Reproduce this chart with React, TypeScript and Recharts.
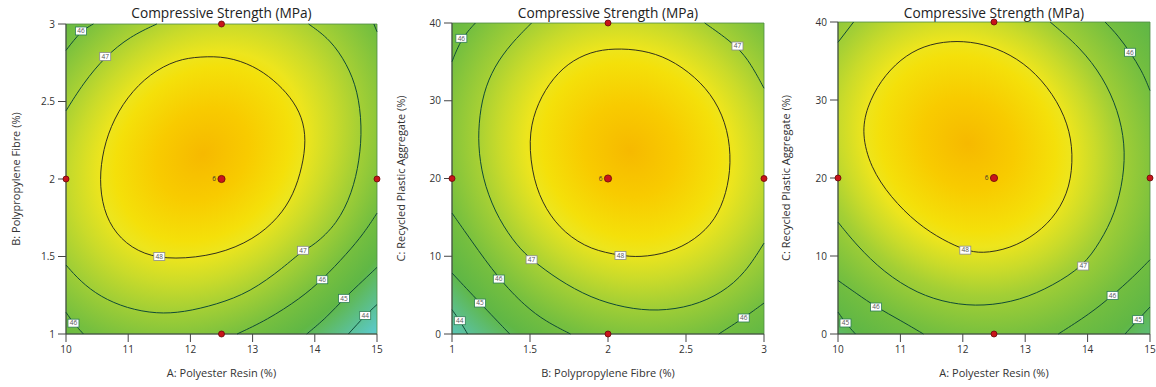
import React from 'react';
import { ScatterChart, Scatter, XAxis, YAxis, ReferenceArea } from 'recharts';

type Pt = [number, number];
type Tag = [number, number, number];

const toXY = (a: Pt[]) => a.map(([x, y]) => ({ x, y }));

// axis ticks
const resinTicks = [10, 11, 12, 13, 14, 15];
const fibreTicks = [1, 1.5, 2, 2.5, 3];
const aggregateTicks = [0, 10, 20, 30, 40];

// ---- panel 1: A Polyester Resin (x) vs B Polypropylene Fibre (y)
const ab48: Pt[] = [
  [12.16, 2.79], [12.59, 2.79], [13.02, 2.73], [13.34, 2.64], [13.61, 2.53], [13.8, 2.4],
  [13.86, 2.25], [13.8, 2.08], [13.66, 1.9], [13.42, 1.75], [13.02, 1.61], [12.43, 1.51],
  [11.73, 1.48], [11.25, 1.51], [10.87, 1.61], [10.63, 1.76], [10.54, 1.95], [10.57, 2.14],
  [10.71, 2.34], [10.98, 2.53], [11.35, 2.68], [11.78, 2.77],
];
const ab47Upper: Pt[] = [[10.0, 2.44], [10.28, 2.62], [10.63, 2.79], [11.03, 2.92], [11.46, 3.0]];
const ab47Lower: Pt[] = [
  [13.9, 3.0], [14.25, 2.9], [14.52, 2.74], [14.69, 2.57], [14.76, 2.34], [14.72, 2.12],
  [14.6, 1.91], [14.36, 1.71], [13.98, 1.57], [13.81, 1.54], [13.5, 1.43], [12.96, 1.27],
  [12.42, 1.19], [11.89, 1.14], [11.46, 1.13], [10.98, 1.165], [10.55, 1.24], [10.23, 1.34],
  [10.0, 1.445],
];
const ab46TopLeft: Pt[] = [[10.0, 2.83], [10.24, 2.955], [10.44, 3.0]];
const ab46TopRight: Pt[] = [[14.95, 3.0], [15.0, 2.95]];
const ab46BottomLeft: Pt[] = [[10.0, 1.14], [10.12, 1.07], [10.28, 1.0]];
const ab46BottomRight: Pt[] = [
  [12.75, 1.0], [13.23, 1.09], [13.77, 1.23], [14.12, 1.35], [14.52, 1.52], [14.79, 1.65], [15.0, 1.78],
];
const ab45: Pt[] = [[13.87, 1.0], [14.2, 1.11], [14.47, 1.23], [14.79, 1.35], [15.0, 1.43]];
const ab44: Pt[] = [[14.54, 1.0], [14.81, 1.12], [15.0, 1.19]];
const abTags: Tag[] = [
  [10.24, 2.955, 46], [10.63, 2.79, 47], [11.5, 1.5, 48], [13.81, 1.54, 47],
  [14.12, 1.35, 46], [14.47, 1.23, 45], [14.81, 1.12, 44], [10.12, 1.07, 46],
];
const abRuns: Pt[] = [[10, 2], [15, 2], [12.5, 1], [12.5, 3], [12.5, 2]];

// ---- panel 2: B Polypropylene Fibre (x) vs C Recycled Plastic Aggregate (y)
const bc48: Pt[] = [
  [2.04, 36.75], [2.22, 36.53], [2.39, 35.46], [2.56, 33.1], [2.69, 30.11], [2.77, 26.25],
  [2.79, 21.97], [2.76, 18.12], [2.69, 14.69], [2.56, 12.12], [2.39, 10.41], [2.2, 9.85],
  [2.08, 10.1], [1.89, 10.83], [1.72, 12.98], [1.6, 15.97], [1.52, 19.83], [1.49, 24.97],
  [1.53, 28.82], [1.62, 32.25], [1.74, 34.82], [1.89, 36.32],
];
const bc47Main: Pt[] = [
  [1.51, 40], [1.38, 37.39], [1.27, 34.39], [1.2, 30.96], [1.17, 27.11], [1.17, 23.26],
  [1.21, 18.97], [1.3, 14.69], [1.42, 11.26], [1.51, 9.55], [1.68, 6.98], [1.89, 4.63],
  [2.11, 3.34], [2.32, 2.91], [2.54, 3.56], [2.73, 5.27], [2.88, 7.84], [3.0, 11.69],
];
const bc47Corner: Pt[] = [[2.62, 40], [2.83, 37.04], [2.92, 34.6], [3.0, 31.61]];
const bc46TopLeft: Pt[] = [[1.15, 40], [1.06, 38.03], [1.0, 35.03]];
const bc46Lower: Pt[] = [[1.0, 15.55], [1.12, 12.12], [1.3, 7.07], [1.47, 3.56], [1.6, 1.63], [1.76, 0]];
const bc46BottomRight: Pt[] = [[2.71, 0], [2.87, 2.06], [3.0, 3.98]];
const bc45: Pt[] = [[1.0, 7.84], [1.18, 3.98], [1.37, 0]];
const bc44: Pt[] = [[1.0, 3.13], [1.05, 1.71], [1.1, 0]];
const bcTags: Tag[] = [
  [1.06, 38.03, 46], [2.83, 37.04, 47], [2.08, 10.1, 48], [1.51, 9.55, 47],
  [1.3, 7.07, 46], [1.18, 3.98, 45], [1.05, 1.71, 44], [2.87, 2.06, 46],
];
const bcRuns: Pt[] = [[1, 20], [3, 20], [2, 0], [2, 40], [2, 20]];

// ---- panel 3: A Polyester Resin (x) vs C Recycled Plastic Aggregate (y)
const ac48: Pt[] = [
  [11.8, 37.61], [12.23, 37.4], [12.65, 36.33], [13.08, 34.19], [13.45, 30.78], [13.69, 26.94],
  [13.77, 23.1], [13.72, 18.83], [13.51, 15.41], [13.19, 12.85], [12.76, 10.93], [12.3, 10.3],
  [12.04, 10.75], [11.69, 12.0], [11.27, 14.13], [10.84, 17.55], [10.52, 21.39], [10.38, 25.66],
  [10.46, 29.07], [10.68, 32.49], [11.0, 35.26], [11.37, 36.97],
];
const ac47Corner: Pt[] = [[10.0, 37.4], [10.25, 40]];
const ac47Main: Pt[] = [
  [13.4, 40], [13.88, 36.76], [14.25, 32.91], [14.49, 28.64], [14.6, 24.38], [14.58, 20.11],
  [14.44, 15.41], [14.2, 11.78], [13.93, 8.71], [13.45, 6.23], [12.92, 4.31], [12.33, 3.54],
  [11.8, 3.88], [11.27, 5.17], [10.73, 7.94], [10.3, 11.36], [10.0, 14.34],
];
const ac46TopRight: Pt[] = [[14.28, 40], [14.49, 38.25], [14.68, 36.12], [14.87, 33.77], [15.0, 31.21]];
const ac46BottomLeft: Pt[] = [[10.0, 6.87], [10.3, 5.17], [10.61, 3.46], [11.0, 1.75], [11.37, 0]];
const ac46BottomRight: Pt[] = [[13.53, 0], [14.04, 2.6], [14.4, 4.95], [14.73, 7.3], [15.0, 9.52]];
const ac45BottomLeft: Pt[] = [[10.0, 2.82], [10.12, 1.41], [10.28, 0]];
const ac45BottomRight: Pt[] = [[14.6, 0], [14.81, 1.84], [15.0, 3.46]];
const acTags: Tag[] = [
  [14.68, 36.12, 46], [12.04, 10.75, 48], [13.93, 8.71, 47], [10.61, 3.46, 46],
  [14.4, 4.95, 46], [10.12, 1.41, 45], [14.81, 1.84, 45],
];
const acRuns: Pt[] = [[10, 20], [15, 20], [12.5, 0], [12.5, 40], [12.5, 20]];

// centre point replicates
const centreReps = 6;

const FONT = "'Open Sans', 'Noto Sans', sans-serif";
const AXIS = '#444';

// colour ramp of the response surface (orange top -> cyan bottom)
const ramp = [
  '#f6b900', '#f8cb00', '#f4e00a', '#ede51d', '#cadb2a', '#a3cf35',
  '#75bf3f', '#60b745', '#5cbf8c', '#5bc9c6',
];

const NoDot = () => <g />;

const LevelTag = (props: any) => {
  const { cx, cy, payload } = props;
  const dark = payload.v >= 47;
  return (
    <g>
      <rect x={cx - 5.5} y={cy - 4} width={11} height={8} fill="#fff" stroke={dark ? '#8a8a8a' : '#2e7d55'} strokeWidth={0.8} />
      <text x={cx} y={cy + 2.3} textAnchor="middle" fontSize={6.5} fill="#555" fontFamily={FONT}>
        {payload.v}
      </text>
    </g>
  );
};

const DesignPoint = (props: any) => {
  const { cx, cy, payload } = props;
  const centre = payload.reps > 1;
  return (
    <g>
      <circle cx={cx} cy={cy} r={centre ? 3.6 : 3} fill="#c8141b" stroke="#6a0808" strokeWidth={0.8} />
      {centre && (
        <text x={cx - 5.5} y={cy + 2.2} textAnchor="end" fontSize={6.5} fill="#333" fontFamily={FONT}>
          {payload.reps}
        </text>
      )}
    </g>
  );
};

interface Contour {
  level: number;
  pts: Pt[];
  closed?: boolean;
}

interface PanelProps {
  id: string;
  left: number;
  width: number;
  top: number;
  right: number;
  yWidth: number;
  xLabel: string;
  yLabel: string;
  xDomain: [number, number];
  yDomain: [number, number];
  xTicks: number[];
  yTicks: number[];
  contours: Contour[];
  tags: Tag[];
  runs: Pt[];
  centre: Pt;
  grad: { cx: number; cy: number; angle: number; ratio: number; radii: number[] };
}

const Panel = (p: PanelProps) => {
  const { cx, cy, angle, ratio, radii } = p.grad;
  const [r48, r47, r46, r45, r44] = radii;
  const offsets = [0, r48 * 0.45, r48 * 0.85, r48, (r48 + r47) / 2, r47, r46, r45, r44, r44 + 0.08];
  const runData = p.runs.map(([x, y]) => ({
    x,
    y,
    reps: x === p.centre[0] && y === p.centre[1] ? centreReps : 1,
  }));
  const tagData = p.tags.map(([x, y, v]) => ({ x, y, v }));
  const plotW = p.width - p.yWidth - p.right;
  return (
    <div style={{ position: 'absolute', left: p.left, top: 0, width: p.width, height: 387 }}>
      <div
        style={{
          position: 'absolute',
          left: p.yWidth,
          width: plotW,
          top: 4,
          textAlign: 'center',
          fontSize: 13.7,
          lineHeight: '18px',
          color: '#222',
        }}
      >
        Compressive Strength (MPa)
      </div>
      <ScatterChart width={p.width} height={387} margin={{ top: p.top, right: p.right, bottom: 0, left: 0 }}>
        <defs>
          <radialGradient
            id={p.id}
            cx={cx}
            cy={cy}
            r={1}
            fx={cx}
            fy={cy}
            gradientTransform={`translate(${cx} ${cy}) rotate(${angle}) scale(1 ${ratio}) translate(${-cx} ${-cy})`}
          >
            {offsets.map((o, i) => (
              <stop key={i} offset={Math.min(o, 1)} stopColor={ramp[i]} />
            ))}
          </radialGradient>
        </defs>
        <XAxis
          type="number"
          dataKey="x"
          domain={p.xDomain}
          ticks={p.xTicks}
          height={387 - 334}
          tickSize={8}
          tickMargin={4}
          stroke={AXIS}
          tick={{ fill: '#333', fontSize: 10 }}
          label={{ value: p.xLabel, position: 'insideBottom', offset: 10, fill: '#333', fontSize: 11 }}
        />
        <YAxis
          type="number"
          dataKey="y"
          domain={p.yDomain}
          ticks={p.yTicks}
          width={p.yWidth}
          tickSize={8}
          tickMargin={3}
          stroke={AXIS}
          tick={{ fill: '#333', fontSize: 10 }}
          label={{
            value: p.yLabel,
            angle: -90,
            position: 'insideLeft',
            offset: 16,
            fill: '#333',
            fontSize: 11,
            style: { textAnchor: 'middle' },
          }}
        />
        <ReferenceArea
          x1={p.xDomain[0]}
          x2={p.xDomain[1]}
          y1={p.yDomain[0]}
          y2={p.yDomain[1]}
          fill={`url(#${p.id})`}
          fillOpacity={1}
          stroke="#4f8a45"
          strokeWidth={0.8}
        />
        {p.contours.map((c, i) => (
          <Scatter
            key={`c${i}`}
            data={toXY(c.pts)}
            fill="none"
            line={{ stroke: c.level === 48 ? '#1c1c1c' : '#0f4a36', strokeWidth: c.level === 48 ? 0.9 : 1 }}
            lineType="joint"
            lineJointType={c.closed ? 'basisClosed' : 'basis'}
            shape={NoDot}
            isAnimationActive={false}
          />
        ))}
        <Scatter data={tagData} shape={LevelTag} isAnimationActive={false} />
        <Scatter data={runData} shape={DesignPoint} isAnimationActive={false} />
      </ScatterChart>
    </div>
  );
};

export default function App() {
  return (
    <div
      style={{
        position: 'absolute',
        left: 0,
        top: 0,
        width: 1156,
        height: 387,
        background: '#fff',
        fontFamily: FONT,
      }}
    >
      <Panel
        id="surfAB"
        left={0}
        width={385}
        top={24}
        right={8}
        yWidth={66}
        xLabel="A: Polyester Resin (%)"
        yLabel="B: Polypropylene Fibre (%)"
        xDomain={[10, 15]}
        yDomain={[1, 3]}
        xTicks={resinTicks}
        yTicks={fibreTicks}
        contours={[
          { level: 48, pts: ab48, closed: true },
          { level: 47, pts: ab47Upper },
          { level: 47, pts: ab47Lower },
          { level: 46, pts: ab46TopLeft },
          { level: 46, pts: ab46TopRight },
          { level: 46, pts: ab46BottomLeft },
          { level: 46, pts: ab46BottomRight },
          { level: 45, pts: ab45 },
          { level: 44, pts: ab44 },
        ]}
        tags={abTags}
        runs={abRuns}
        centre={[12.5, 2]}
        grad={{ cx: 0.44, cy: 0.42, angle: -45, ratio: 0.83, radii: [0.36, 0.553, 0.68, 0.775, 0.875] }}
      />
      <Panel
        id="surfBC"
        left={385}
        width={385}
        top={23}
        right={6}
        yWidth={67}
        xLabel="B: Polypropylene Fibre (%)"
        yLabel="C: Recycled Plastic Aggregate (%)"
        xDomain={[1, 3]}
        yDomain={[0, 40]}
        xTicks={fibreTicks}
        yTicks={aggregateTicks}
        contours={[
          { level: 48, pts: bc48, closed: true },
          { level: 47, pts: bc47Main },
          { level: 47, pts: bc47Corner },
          { level: 46, pts: bc46TopLeft },
          { level: 46, pts: bc46Lower },
          { level: 46, pts: bc46BottomRight },
          { level: 45, pts: bc45 },
          { level: 44, pts: bc44 },
        ]}
        tags={bcTags}
        runs={bcRuns}
        centre={[2, 20]}
        grad={{ cx: 0.571, cy: 0.41, angle: 45, ratio: 0.92, radii: [0.345, 0.52, 0.645, 0.74, 0.835] }}
      />
      <Panel
        id="surfAC"
        left={770}
        width={386}
        top={22}
        right={6}
        yWidth={68}
        xLabel="A: Polyester Resin (%)"
        yLabel="C: Recycled Plastic Aggregate (%)"
        xDomain={[10, 15]}
        yDomain={[0, 40]}
        xTicks={resinTicks}
        yTicks={aggregateTicks}
        contours={[
          { level: 48, pts: ac48, closed: true },
          { level: 47, pts: ac47Corner },
          { level: 47, pts: ac47Main },
          { level: 46, pts: ac46TopRight },
          { level: 46, pts: ac46BottomLeft },
          { level: 46, pts: ac46BottomRight },
          { level: 45, pts: ac45BottomLeft },
          { level: 45, pts: ac45BottomRight },
        ]}
        tags={acTags}
        runs={acRuns}
        centre={[12.5, 20]}
        grad={{ cx: 0.416, cy: 0.39, angle: 45, ratio: 0.89, radii: [0.35, 0.515, 0.66, 0.774, 0.87] }}
      />
    </div>
  );
}
